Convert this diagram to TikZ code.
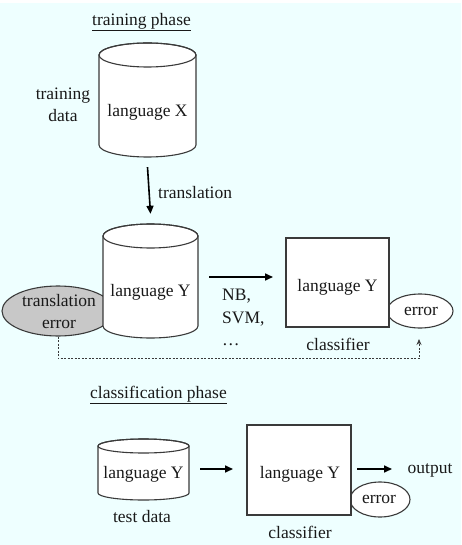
\documentclass[tikz,border=0pt]{standalone}
\usepackage{fontspec}
\setmainfont{Liberation Serif}
\usetikzlibrary{shapes.geometric,arrows.meta}
\definecolor{bg}{HTML}{EEFFFF}
\definecolor{ln}{HTML}{3A3A3A}
\definecolor{errgray}{HTML}{C8C8C8}
\tikzset{
  txt/.style={font=\fontsize{17.5}{22.5}\selectfont, inner sep=0pt, align=center, text=black!90},
  cylbody/.style={draw=ln, fill=white, line width=1.1pt},
  cylline/.style={draw=ln, line width=1.1pt},
  cylarea/.style={inner sep=0pt, draw=none},
  boxstyle/.style={draw=ln, fill=white, line width=1.1pt, inner sep=0pt},
  ellstyle/.style={ellipse, draw=ln, fill=white, line width=1.1pt, inner sep=0pt},
  arr/.style={-{Triangle[length=8pt,width=7pt]}, line width=1.6pt, black},
  dashline/.style={-{Stealth[length=6pt,width=5pt]}, line width=0.8pt, ln, dash pattern=on 2pt off 1.5pt},
}
\newcommand\mycyl[5]{%
  \path[cylbody] (#1-#2,#3) -- (#1-#2,#4) arc[start angle=180,end angle=360,x radius=#2pt,y radius=#5pt]
     -- (#1+#2,#3) arc[start angle=0,end angle=180,x radius=#2pt,y radius=#5pt] -- cycle;
  \draw[cylline] (#1,#3) ellipse[x radius=#2pt,y radius=#5pt];}
\begin{document}
\begin{tikzpicture}[x=1pt,y=-1pt]
\useasboundingbox (0,0) rectangle (461,545);
\fill[bg] (0,0) rectangle (461,545);
\fill[white] (0,0) rectangle (461,3);

% ---------- training phase ----------
\node[txt] (tphase) at (141.5,22) {\underline{training phase}};
\node[txt] (tdata) at (63,105) {training\\data};

\mycyl{147.5}{48.5}{55}{145}{12}
\node[cylarea, minimum width=97pt, minimum height=114pt] (cylX) at (147.5,100) {};
\node[txt] (txtX) at (147.5,112) {language X};

\node[ellipse, draw=ln, fill=errgray, line width=1.1pt, inner sep=0pt,
      minimum width=112pt, minimum height=50pt] (terr) at (58,311) {};
\node[txt] (terrtxt) at (59,311.5) {translation\\error};

\mycyl{150.5}{47.5}{236}{326}{12}
\node[cylarea, minimum width=95pt, minimum height=114pt] (cylY) at (150.5,281) {};
\node[txt] (txtY) at (150.5,292) {language Y};

\draw[arr] ([yshift=-10pt]cylX.south) -- ([yshift=10pt]cylY.north);
\node[txt, anchor=west] (transl) at (158,193) {translation};

\node[ellstyle, minimum width=66pt, minimum height=34pt] (err1) at (420,311) {};
\node[txt] (err1txt) at (421,311) {error};
\node[boxstyle, minimum width=103pt, minimum height=89pt] (clf1) at (337.5,282.5) {};
\node[txt] (clf1txt) at (337.5,287) {language Y};
\node[txt] (clf1lab) at (338,344) {classifier};

\coordinate (a1s) at (209,277);
\coordinate (a1e) at (273,277);
\draw[arr] (a1s) -- (a1e);
\node[txt, align=left, anchor=north west] (algs) at (222,289) {NB,\\SVM,\\\ldots};

\coordinate (dtip) at (419,339);
\draw[dashline] (terr.south) -- ++(0,22) -| (dtip);

% ---------- classification phase ----------
\node[txt] (cphase) at (158.5,395) {\underline{classification phase}};

\mycyl{143.5}{45.5}{446}{493}{7}
\node[cylarea, minimum width=91pt, minimum height=61pt] (cylT) at (143.5,469.5) {};
\node[txt] (txtT) at (143.5,474) {language Y};
\node[txt] (tdlab) at (142,517) {test data};

\node[ellstyle, minimum width=60pt, minimum height=35pt] (err2) at (380,499.5) {};
\node[txt] (err2txt) at (379,499) {error};
\node[boxstyle, minimum width=104pt, minimum height=90pt] (clf2) at (299,470) {};
\node[txt] (clf2txt) at (300,474) {language Y};
\node[txt] (clf2lab) at (300,532) {classifier};

\coordinate (a2s) at (200,469);
\coordinate (a2e) at (233,469);
\draw[arr] (a2s) -- (a2e);
\coordinate (a3s) at (357,469);
\coordinate (a3e) at (392,469);
\draw[arr] (a3s) -- (a3e);
\node[txt] (outp) at (430,470) {output};
\end{tikzpicture}
\end{document}
